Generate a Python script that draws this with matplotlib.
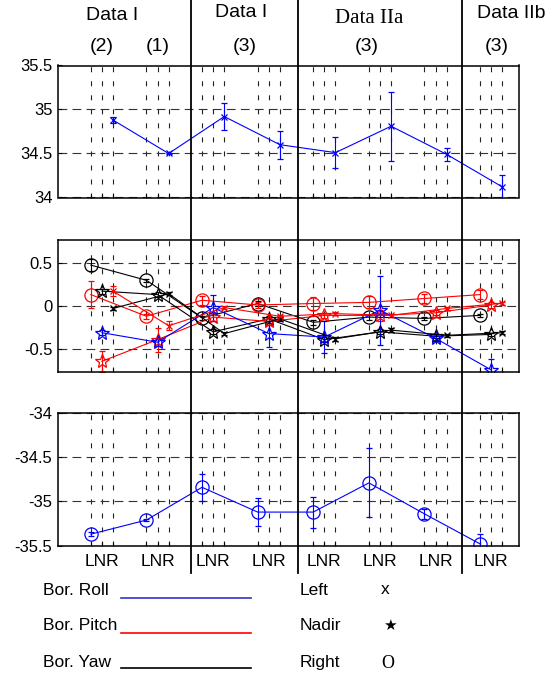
import matplotlib
matplotlib.use("Agg")
import matplotlib.pyplot as plt
import matplotlib.transforms as mtransforms
from matplotlib.lines import Line2D

plt.rcParams['font.family'] = ['Liberation Sans', 'DejaVu Sans']
plt.rcParams['axes.unicode_minus'] = False
plt.rcParams['lines.scale_dashes'] = False

# ---- data ----
groups = [1, 2, 3, 4, 5, 6, 7, 8]
group_labels = ["LNR"] * 8

# top panel: roll, "x" marker at R position
roll_top = [34.88, 34.50, 34.92, 34.60, 34.51, 34.81, 34.49, 34.12]
roll_top_err = [0.03, 0.01, 0.15, 0.16, 0.175, 0.39, 0.07, 0.135]

# bottom panel: roll, "o" marker at L position
roll_bot = [-35.37, -35.21, -34.84, -35.12, -35.12, -34.79, -35.14, -35.48]
roll_bot_err = [0.025, 0.01, 0.15, 0.16, 0.175, 0.39, 0.06, 0.11]

# middle panel
yaw_o = [0.47, 0.295, -0.14, 0.027, -0.19, -0.13, -0.145, -0.11]
yaw_o_err = [0.07, 0.02, 0.02, 0.03, 0.03, 0.03, 0.02, 0.02]
pitch_o = [0.13, -0.12, 0.065, 0.01, 0.027, 0.04, 0.085, 0.13]
pitch_o_err = [0.16, 0.03, 0.05, 0.04, 0.07, 0.07, 0.05, 0.05]
roll_star = [-0.31, -0.42, -0.02, -0.32, -0.36, -0.05, -0.375, -0.74]
roll_star_err = [0.03, 0.04, 0.15, 0.15, 0.18, 0.40, 0.03, 0.13]
pitch_star = [-0.64, -0.39, -0.13, -0.18, -0.11, -0.11, -0.08, 0.01]
pitch_star_err = [0.12, 0.14, 0.05, 0.04, 0.03, 0.06, 0.03, 0.03]
yaw_star = [0.17, 0.13, -0.30, -0.15, -0.39, -0.30, -0.35, -0.33]
yaw_star_err = [0.03, 0.03, 0.03, 0.03, 0.03, 0.03, 0.02, 0.02]
pitch_x = [0.17, -0.23, -0.02, -0.12, -0.09, -0.11, -0.03, 0.03]
pitch_x_err = [0.06, 0.05, 0.02, 0.02, 0.02, 0.02, 0.02, 0.02]
yaw_x = [-0.03, 0.14, -0.32, -0.15, -0.38, -0.28, -0.34, -0.31]
yaw_x_err = [0.02, 0.02, 0.02, 0.02, 0.02, 0.02, 0.02, 0.02]

separators = [2.61, 4.52, 7.47]

off = 0.2
xL = [g - off for g in groups]
xN = list(groups)
xR = [g + off for g in groups]

W, H = 551, 677
fig = plt.figure(figsize=(W / 100, H / 100), dpi=100)

def fx(px):
    return px / W

def fy(py):
    return 1 - py / H

left, width = fx(58), fx(519) - fx(58)
ax_top = fig.add_axes([left, fy(197.5), width, (197.5 - 65.5) / H])
ax_mid = fig.add_axes([left, fy(371.7), width, (371.7 - 240) / H])
ax_bot = fig.add_axes([left, fy(545.7), width, (545.7 - 413) / H])


def style(ax, ylim, yticks, ylabels):
    ax.set_xlim(0.21, 8.5)
    ax.set_ylim(*ylim)
    ax.set_yticks(yticks)
    ax.set_yticklabels(ylabels, fontsize=12)
    ax.set_xticks(groups)
    ax.set_xticks(xL + xR, minor=True)
    ax.grid(which='both', axis='x', color='#222222', lw=0.8, ls=(0, (3.6, 6.5)))
    ax.grid(which='major', axis='y', color='#333333', lw=0.8, ls=(0, (6.3, 3.8)))
    ax.tick_params(which='both', direction='in', length=3, width=0.8, pad=4)
    for s in ax.spines.values():
        s.set_linewidth(1.1)
    ax.set_axisbelow(True)


style(ax_top, (34, 35.5), [34, 34.5, 35, 35.5], ["34", "34.5", "35", "35.5"])
style(ax_mid, (-0.76, 0.76), [-0.5, 0, 0.5], ["-0.5", "0", "0.5"])
style(ax_bot, (-35.5, -34), [-35.5, -35, -34.5, -34], ["-35.5", "-35", "-34.5", "-34"])
ax_top.set_xticklabels([])
ax_mid.set_xticklabels([])
ax_bot.set_xticklabels(group_labels, fontsize=12.5)
ax_bot.tick_params(axis='x', which='major', pad=6)

blue, red, black = '#0000ff', '#ff0000', '#000000'
eb = dict(lw=0.8, elinewidth=0.8, capsize=2.5, capthick=0.8, mfc='none', mew=0.9)

ax_top.errorbar(xR, roll_top, yerr=roll_top_err, color=blue, marker='x', ms=5, **eb)
ax_bot.errorbar(xL, roll_bot, yerr=roll_bot_err, color=blue, marker='o', ms=9.5, **eb)

ax_mid.errorbar(xL, yaw_o, yerr=yaw_o_err, color=black, marker='o', ms=9.5, **eb)
ax_mid.errorbar(xL, pitch_o, yerr=pitch_o_err, color=red, marker='o', ms=9.5, **eb)
ax_mid.errorbar(xN, yaw_star, yerr=yaw_star_err, color=black, marker='*', ms=10, **eb)
ax_mid.errorbar(xN, pitch_star, yerr=pitch_star_err, color=red, marker='*', ms=10, **eb)
ax_mid.errorbar(xN, roll_star, yerr=roll_star_err, color=blue, marker='*', ms=10, **eb)
ax_mid.errorbar(xR, yaw_x, yerr=yaw_x_err, color=black, marker='x', ms=5, **eb)
ax_mid.errorbar(xR, pitch_x, yerr=pitch_x_err, color=red, marker='x', ms=5, **eb)

# vertical separators across whole figure
trans = mtransforms.blended_transform_factory(ax_bot.transData, fig.transFigure)
for s in separators:
    fig.add_artist(Line2D([s, s], [fy(572.7), 1.0], transform=trans,
                          color='black', lw=1.3, clip_on=False))

# header texts
htxt = [
    (1.19, 16, "Data I", 'sans', 14),
    (1.0, 46.7, "(2)", 'sans', 14),
    (2.0, 46.7, "(1)", 'sans', 14),
    (3.5, 12.7, "Data I", 'sans', 14),
    (3.57, 46.7, "(3)", 'sans', 14),
    (5.80, 18.3, "Data IIa", 'serif', 15),
    (5.77, 46.7, "(3)", 'sans', 14),
    (8.36, 14, "Data IIb", 'sans', 14),
    (8.10, 46.7, "(3)", 'sans', 14),
]
for x, py, t, fam, fs in htxt:
    family = ['Liberation Serif'] if fam == 'serif' else ['Liberation Sans']
    fig.text(x, fy(py), t, transform=trans, ha='center', va='center',
             fontsize=fs, family=family)

# legend block
leg_names = ["Bor. Roll", "Bor. Pitch", "Bor. Yaw"]
leg_colors = ['#3333cc', red, black]
leg_text_y = [590.7, 626, 662.7]
leg_line_y = [597.7, 632.7, 667.7]
for name, c, ty, ly in zip(leg_names, leg_colors, leg_text_y, leg_line_y):
    fig.text(fx(42.7), fy(ty), name, ha='left', va='center', fontsize=12.5)
    fig.add_artist(Line2D([fx(121), fx(250.6)], [fy(ly), fy(ly)],
                          transform=fig.transFigure, color=c, lw=1.2))

cam_names = ["Left", "Nadir", "Right"]
for name, ty in zip(cam_names, leg_text_y):
    fig.text(fx(299.7), fy(ty), name, ha='left', va='center', fontsize=12.5)
fig.text(fx(385.6), fy(590), "x", ha='center', va='center', fontsize=12.5)
fig.text(fx(389.8), fy(625), "\u2605", ha='center', va='center', fontsize=11,
         family=['DejaVu Sans'])
fig.text(fx(387.3), fy(664), "O", ha='center', va='center', fontsize=13,
         family=['Liberation Serif'])

fig.savefig("out.png", dpi=100)
